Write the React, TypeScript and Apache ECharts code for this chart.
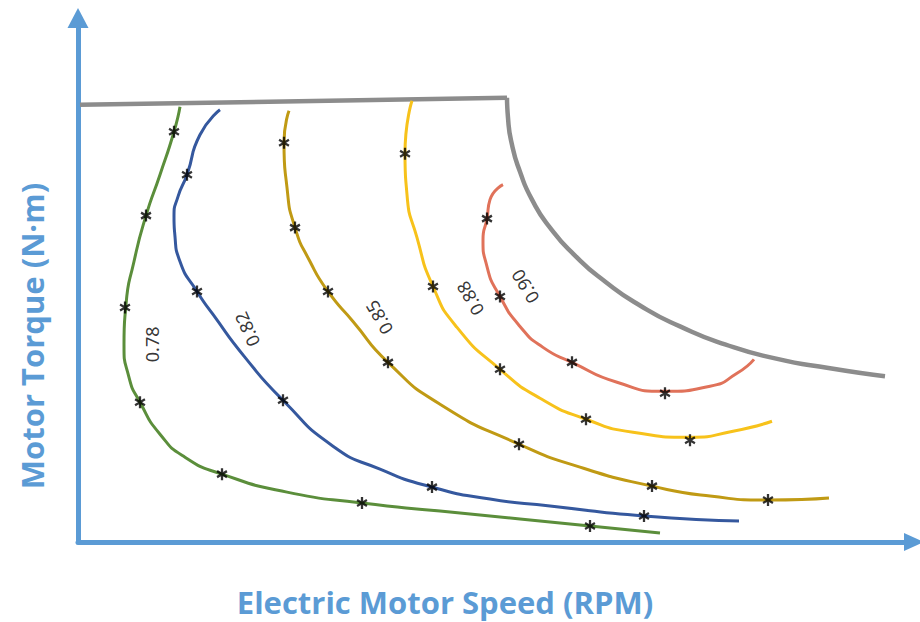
import React, { useEffect, useRef } from "react";
import * as echarts from "echarts";

// Efficiency contour curves: [speed, torque] in chart units
const eff078 = [[102,436],[96,411],[82,368],[68,327],[56,281],[48,238],[46,198],[51,165],[62,140],[82,108],[107,85],[144,68],[209,50],[284,39],[362,31],[442,23],[512,16],[582,9]];
const eff082 = [[142,433],[122,408],[109,368],[100,346],[96,326],[97,306],[102,281],[119,251],[135,228],[167,185],[205,142],[255,96],[302,73],[354,55],[412,43],[472,36],[566,26],[661,21]];
const eff085 = [[211,432],[206,400],[209,355],[217,315],[232,281],[250,251],[275,221],[310,180],[362,138],[441,98],[502,75],[574,56],[632,46],[690,42],[751,44]];
const eff088 = [[334,442],[327,389],[329,348],[339,305],[355,256],[379,215],[422,173],[462,144],[508,123],[555,110],[612,105],[655,111],[694,121]];
const eff090 = [[425,358],[412,343],[409,324],[405,303],[409,276],[422,246],[442,216],[465,195],[494,180],[539,160],[587,151],[632,156],[659,169],[676,183]];

// Measured operating points (asterisks)
const pts078 = [[96,411],[68,327],[47,235],[62,140],[144,68],[284,39],[512,16]];
const pts082 = [[109,368],[119,251],[205,142],[354,55],[566,26]];
const pts085 = [[206,400],[217,315],[250,251],[310,180],[441,98],[574,56],[690,42]];
const pts088 = [[327,389],[355,256],[422,173],[508,123],[612,102]];
const pts090 = [[409,324],[422,246],[494,180],[587,149]];

// Max torque envelope
const envelopeFlat = [[2,438],[429,445]];
const envelopeCurve = [[429,445],[430,425],[434,398],[442,371],[454,343],[472,315],[497,287],[527,261],[562,237],[602,216],[647,198],[697,184],[752,174],[807,166]];

// Contour labels: [speed, torque], text, rotation (deg)
const labelNames = ["0.78", "0.82", "0.85", "0.88", "0.90"];
const labelPos = [[74,198],[169,213],[301,225],[392,244],[447,256]];
const labelRot = [90, 114, 120, 120, 121];

const xTitle = "Electric Motor Speed (RPM)";
const yTitle = "Motor Torque (N·m)";

const ASTERISK =
  "path://M-1,-5L1,-5L1,5L-1,5Z M3.83,-3.37L4.83,-1.63L-3.83,3.37L-4.83,1.63Z M4.83,1.63L3.83,3.37L-4.83,-1.63L-3.83,-3.37Z";

const AXIS_BLUE = "#5B9BD5";

export default function App() {
  const ref = useRef<HTMLDivElement>(null);
  useEffect(() => {
    if (!ref.current) return;
    const chart = echarts.init(ref.current, undefined, { renderer: "svg" });
    const lineSeries = (data: number[][], color: string, width = 3, smooth: boolean | number = 0.6) => ({
      type: "line",
      data,
      smooth,
      showSymbol: false,
      lineStyle: { color, width },
      itemStyle: { color },
      z: 2,
      silent: true,
    });
    const markSeries = (data: number[][]) => ({
      type: "scatter",
      data,
      symbol: ASTERISK,
      symbolSize: [11, 12],
      itemStyle: { color: "#000" },
      z: 5,
      silent: true,
    });
    const axisCommon = {
      type: "value",
      axisTick: { show: false },
      axisLabel: { show: false },
      splitLine: { show: false },
    };
    chart.setOption({
      animation: false,
      grid: { left: 78, right: 12, top: 18, bottom: 80 },
      xAxis: {
        ...axisCommon,
        min: 0,
        max: 830,
        axisLine: {
          show: true,
          symbol: ["none", "triangle"],
          symbolSize: [18, 20],
          symbolOffset: [0, 6],
          lineStyle: { color: AXIS_BLUE, width: 5 },
        },
      },
      yAxis: {
        ...axisCommon,
        min: 0,
        max: 525,
        axisLine: {
          show: true,
          symbol: ["none", "triangle"],
          symbolSize: [21, 20],
          lineStyle: { color: AXIS_BLUE, width: 5 },
        },
      },
      graphic: [
        {
          type: "text",
          x: 445,
          y: 602,
          style: {
            text: xTitle,
            fontFamily: "Open Sans",
            fontWeight: "bold",
            fontSize: 31,
            fill: AXIS_BLUE,
            align: "center",
            verticalAlign: "middle",
          },
        },
        {
          type: "text",
          x: 32,
          y: 336,
          rotation: Math.PI / 2,
          style: {
            text: yTitle,
            fontFamily: "Open Sans",
            fontWeight: "bold",
            fontSize: 31,
            fill: AXIS_BLUE,
            align: "center",
            verticalAlign: "middle",
          },
        },
      ],
      series: [
        lineSeries(envelopeFlat, "#8C8C8C", 4.5, false),
        lineSeries(envelopeCurve, "#8C8C8C", 4.5),
        lineSeries(eff078, "#5B8E3B"),
        lineSeries(eff082, "#35589E"),
        lineSeries(eff085, "#C09A14"),
        lineSeries(eff088, "#F7C21B"),
        lineSeries(eff090, "#E0725A"),
        markSeries(pts078),
        markSeries(pts082),
        markSeries(pts085),
        markSeries(pts088),
        markSeries(pts090),
        {
          type: "scatter",
          symbolSize: 0,
          silent: true,
          z: 6,
          data: labelNames.map((n, i) => ({
            name: n,
            value: labelPos[i],
            label: { rotate: labelRot[i] },
          })),
          label: {
            show: true,
            position: "inside",
            formatter: "{b}",
            color: "#000",
            fontFamily: "Noto Sans",
            fontSize: 18,
          },
        },
      ],
    });
    return () => chart.dispose();
  }, []);
  return (
    <div
      ref={ref}
      style={{ position: "fixed", left: 0, top: 0, width: 920, height: 622, background: "#fff" }}
    />
  );
}
